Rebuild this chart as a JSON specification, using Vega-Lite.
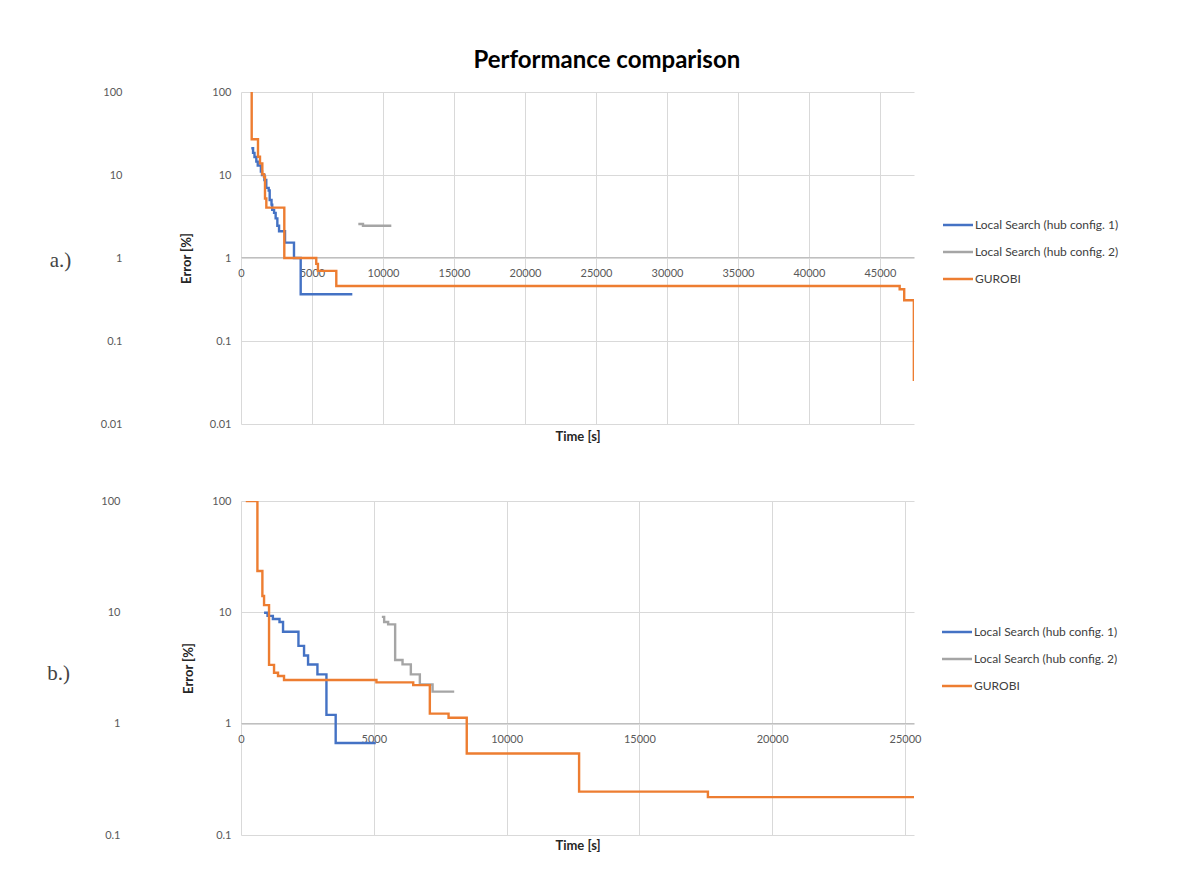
{
  "$schema": "https://vega.github.io/schema/vega-lite/v6.json",
  "background": "white",
  "padding": {"left": 46, "top": 49, "right": 5, "bottom": 5},
  "title": {"text": "Performance comparison", "font": "Lato", "fontSize": 24, "fontWeight": "bold", "color": "#000000", "anchor": "middle", "offset": 13, "dx": 24},
  "datasets": {
    "a": [
      {"s": "Local Search (hub config. 1)", "t": 725, "e": 21},
      {"s": "Local Search (hub config. 1)", "t": 850, "e": 18.5},
      {"s": "Local Search (hub config. 1)", "t": 950, "e": 16.5},
      {"s": "Local Search (hub config. 1)", "t": 1080, "e": 14.5},
      {"s": "Local Search (hub config. 1)", "t": 1180, "e": 13},
      {"s": "Local Search (hub config. 1)", "t": 1400, "e": 11},
      {"s": "Local Search (hub config. 1)", "t": 1480, "e": 10},
      {"s": "Local Search (hub config. 1)", "t": 1650, "e": 8.7},
      {"s": "Local Search (hub config. 1)", "t": 1780, "e": 7},
      {"s": "Local Search (hub config. 1)", "t": 1950, "e": 6.5},
      {"s": "Local Search (hub config. 1)", "t": 2020, "e": 5},
      {"s": "Local Search (hub config. 1)", "t": 2150, "e": 4.4},
      {"s": "Local Search (hub config. 1)", "t": 2200, "e": 3.8},
      {"s": "Local Search (hub config. 1)", "t": 2330, "e": 3.5},
      {"s": "Local Search (hub config. 1)", "t": 2440, "e": 3.0},
      {"s": "Local Search (hub config. 1)", "t": 2560, "e": 2.45},
      {"s": "Local Search (hub config. 1)", "t": 2680, "e": 2.1},
      {"s": "Local Search (hub config. 1)", "t": 3100, "e": 1.53},
      {"s": "Local Search (hub config. 1)", "t": 3732, "e": 1.0},
      {"s": "Local Search (hub config. 1)", "t": 4204, "e": 0.366},
      {"s": "Local Search (hub config. 1)", "t": 7840, "e": 0.366},
      {"s": "Local Search (hub config. 2)", "t": 8263, "e": 2.57},
      {"s": "Local Search (hub config. 2)", "t": 8592, "e": 2.45},
      {"s": "Local Search (hub config. 2)", "t": 10587, "e": 2.45},
      {"s": "GUROBI", "t": 740, "e": 100},
      {"s": "GUROBI", "t": 753, "e": 27},
      {"s": "GUROBI", "t": 1197, "e": 16.6},
      {"s": "GUROBI", "t": 1338, "e": 13.8},
      {"s": "GUROBI", "t": 1502, "e": 10.2},
      {"s": "GUROBI", "t": 1620, "e": 9.5},
      {"s": "GUROBI", "t": 1690, "e": 5.2},
      {"s": "GUROBI", "t": 1784, "e": 4.04},
      {"s": "GUROBI", "t": 3050, "e": 1.0},
      {"s": "GUROBI", "t": 5300, "e": 0.85},
      {"s": "GUROBI", "t": 5420, "e": 0.70},
      {"s": "GUROBI", "t": 6712, "e": 0.46},
      {"s": "GUROBI", "t": 46390, "e": 0.42},
      {"s": "GUROBI", "t": 46710, "e": 0.31},
      {"s": "GUROBI", "t": 47390, "e": 0.033}
    ],
    "b": [
      {"s": "Local Search (hub config. 1)", "t": 868, "e": 9.9},
      {"s": "Local Search (hub config. 1)", "t": 1000, "e": 9.3},
      {"s": "Local Search (hub config. 1)", "t": 1200, "e": 8.7},
      {"s": "Local Search (hub config. 1)", "t": 1450, "e": 8.2},
      {"s": "Local Search (hub config. 1)", "t": 1583, "e": 6.7},
      {"s": "Local Search (hub config. 1)", "t": 2163, "e": 5.0},
      {"s": "Local Search (hub config. 1)", "t": 2374, "e": 4.1},
      {"s": "Local Search (hub config. 1)", "t": 2525, "e": 3.4},
      {"s": "Local Search (hub config. 1)", "t": 2878, "e": 2.77},
      {"s": "Local Search (hub config. 1)", "t": 3217, "e": 1.2},
      {"s": "Local Search (hub config. 1)", "t": 3565, "e": 0.67},
      {"s": "Local Search (hub config. 1)", "t": 5075, "e": 0.67},
      {"s": "Local Search (hub config. 2)", "t": 5303, "e": 9.1},
      {"s": "Local Search (hub config. 2)", "t": 5390, "e": 8.2},
      {"s": "Local Search (hub config. 2)", "t": 5540, "e": 7.8},
      {"s": "Local Search (hub config. 2)", "t": 5804, "e": 3.73},
      {"s": "Local Search (hub config. 2)", "t": 6082, "e": 3.41},
      {"s": "Local Search (hub config. 2)", "t": 6395, "e": 2.77},
      {"s": "Local Search (hub config. 2)", "t": 6734, "e": 2.25},
      {"s": "Local Search (hub config. 2)", "t": 7213, "e": 1.94},
      {"s": "Local Search (hub config. 2)", "t": 8028, "e": 1.94},
      {"s": "GUROBI", "t": 180, "e": 100},
      {"s": "GUROBI", "t": 618, "e": 23.5},
      {"s": "GUROBI", "t": 805, "e": 14.0},
      {"s": "GUROBI", "t": 868, "e": 11.6},
      {"s": "GUROBI", "t": 1056, "e": 3.37},
      {"s": "GUROBI", "t": 1244, "e": 2.87},
      {"s": "GUROBI", "t": 1394, "e": 2.68},
      {"s": "GUROBI", "t": 1620, "e": 2.47},
      {"s": "GUROBI", "t": 5100, "e": 2.35},
      {"s": "GUROBI", "t": 6485, "e": 2.22},
      {"s": "GUROBI", "t": 7110, "e": 1.23},
      {"s": "GUROBI", "t": 7815, "e": 1.13},
      {"s": "GUROBI", "t": 8500, "e": 0.54},
      {"s": "GUROBI", "t": 12730, "e": 0.245},
      {"s": "GUROBI", "t": 17580, "e": 0.219},
      {"s": "GUROBI", "t": 25340, "e": 0.219}
    ]
  },
  "spacing": 52,
  "vconcat": [
    {
      "width": 673,
      "height": 332,
      "data": {"name": "a"},
      "layer": [
        {
          "mark": {"type": "line", "interpolate": "step-after", "strokeWidth": 2.4, "clip": true},
          "encoding": {
            "x": {"field": "t", "type": "quantitative",
              "scale": {"domain": [0, 47400], "nice": false, "zero": false},
              "axis": {"title": "Time [s]", "values": [0, 5000, 10000, 15000, 20000, 25000, 30000, 35000, 40000, 45000], "format": "d", "offset": -167, "titlePadding": 152, "grid": true, "labelOverlap": false}},
            "y": {"field": "e", "type": "quantitative",
              "scale": {"type": "log", "domain": [0.01, 100], "nice": false},
              "axis": {"title": "Error [%]", "values": [0.01, 0.1, 1, 10, 100], "format": "~g", "titlePadding": 16, "domain": false, "labelOverlap": false}},
            "color": {"field": "s", "type": "nominal",
              "scale": {"domain": ["Local Search (hub config. 1)", "Local Search (hub config. 2)", "GUROBI"], "range": ["#4472C4", "#A5A5A5", "#ED7D31"]},
              "legend": {"orient": "none", "legendX": 708, "legendY": 124, "title": null}}
          }
        },
        {
          "mark": {"type": "point", "opacity": 0},
          "encoding": {
            "y": {"field": "e", "type": "quantitative",
              "scale": {"type": "log", "domain": [0.01, 100], "nice": false},
              "axis": {"orient": "left", "offset": 119, "labelPadding": 0, "grid": false, "domain": false, "values": [0.01, 0.1, 1, 10, 100], "format": "~g", "labelOverlap": false,
                "title": "a.)", "titleAngle": 0, "titleX": -62, "titleY": 168, "titleAlign": "center", "titleBaseline": "middle", "titleFont": "Liberation Serif", "titleFontSize": 21, "titleFontWeight": "normal", "titleColor": "#444444"}}
          }
        }
      ],
      "resolve": {"axis": {"y": "independent"}}
    },
    {
      "width": 673,
      "height": 334,
      "data": {"name": "b"},
      "layer": [
        {
          "mark": {"type": "line", "interpolate": "step-after", "strokeWidth": 2.4, "clip": true},
          "encoding": {
            "x": {"field": "t", "type": "quantitative",
              "scale": {"domain": [0, 25340], "nice": false, "zero": false},
              "axis": {"title": "Time [s]", "values": [0, 5000, 10000, 15000, 20000, 25000], "format": "d", "offset": -112, "titlePadding": 95, "grid": true, "labelOverlap": false}},
            "y": {"field": "e", "type": "quantitative",
              "scale": {"type": "log", "domain": [0.1, 100], "nice": false},
              "axis": {"title": "Error [%]", "values": [0.1, 1, 10, 100], "format": "~g", "titlePadding": 16, "domain": false, "labelOverlap": false}},
            "color": {"field": "s", "type": "nominal",
              "scale": {"domain": ["Local Search (hub config. 1)", "Local Search (hub config. 2)", "GUROBI"], "range": ["#4472C4", "#A5A5A5", "#ED7D31"]},
              "legend": {"orient": "none", "legendX": 707, "legendY": 122, "title": null}}
          }
        },
        {
          "mark": {"type": "point", "opacity": 0},
          "encoding": {
            "y": {"field": "e", "type": "quantitative",
              "scale": {"type": "log", "domain": [0.1, 100], "nice": false},
              "axis": {"orient": "left", "offset": 121, "labelPadding": 0, "grid": false, "domain": false, "values": [0.1, 1, 10, 100], "format": "~g", "labelOverlap": false,
                "title": "b.)", "titleAngle": 0, "titleX": -62, "titleY": 172, "titleAlign": "center", "titleBaseline": "middle", "titleFont": "Liberation Serif", "titleFontSize": 21, "titleFontWeight": "normal", "titleColor": "#444444"}}
          }
        }
      ],
      "resolve": {"axis": {"y": "independent"}}
    }
  ],
  "resolve": {"scale": {"color": "independent"}, "legend": {"color": "independent"}},
  "config": {
    "font": "Lato",
    "view": {"stroke": null},
    "axis": {
      "gridColor": "#d9d9d9", "gridWidth": 1, "domainColor": "#bfbfbf", "domainWidth": 1,
      "ticks": false, "labelColor": "#595959", "labelFontSize": 11, "labelFont": "Lato", "labelPadding": 10,
      "titleFont": "Lato", "titleFontSize": 13, "titleFontWeight": "bold", "titleColor": "#262626"
    },
    "axisX": {"labelFlush": false},
    "legend": {
      "labelFont": "Lato", "labelFontSize": 12, "labelColor": "#404040", "labelLimit": 300,
      "symbolType": "M-2,0H2", "symbolSize": 225, "symbolStrokeWidth": 2.5,
      "rowPadding": 12, "labelOffset": 8, "padding": 0
    }
  }
}
